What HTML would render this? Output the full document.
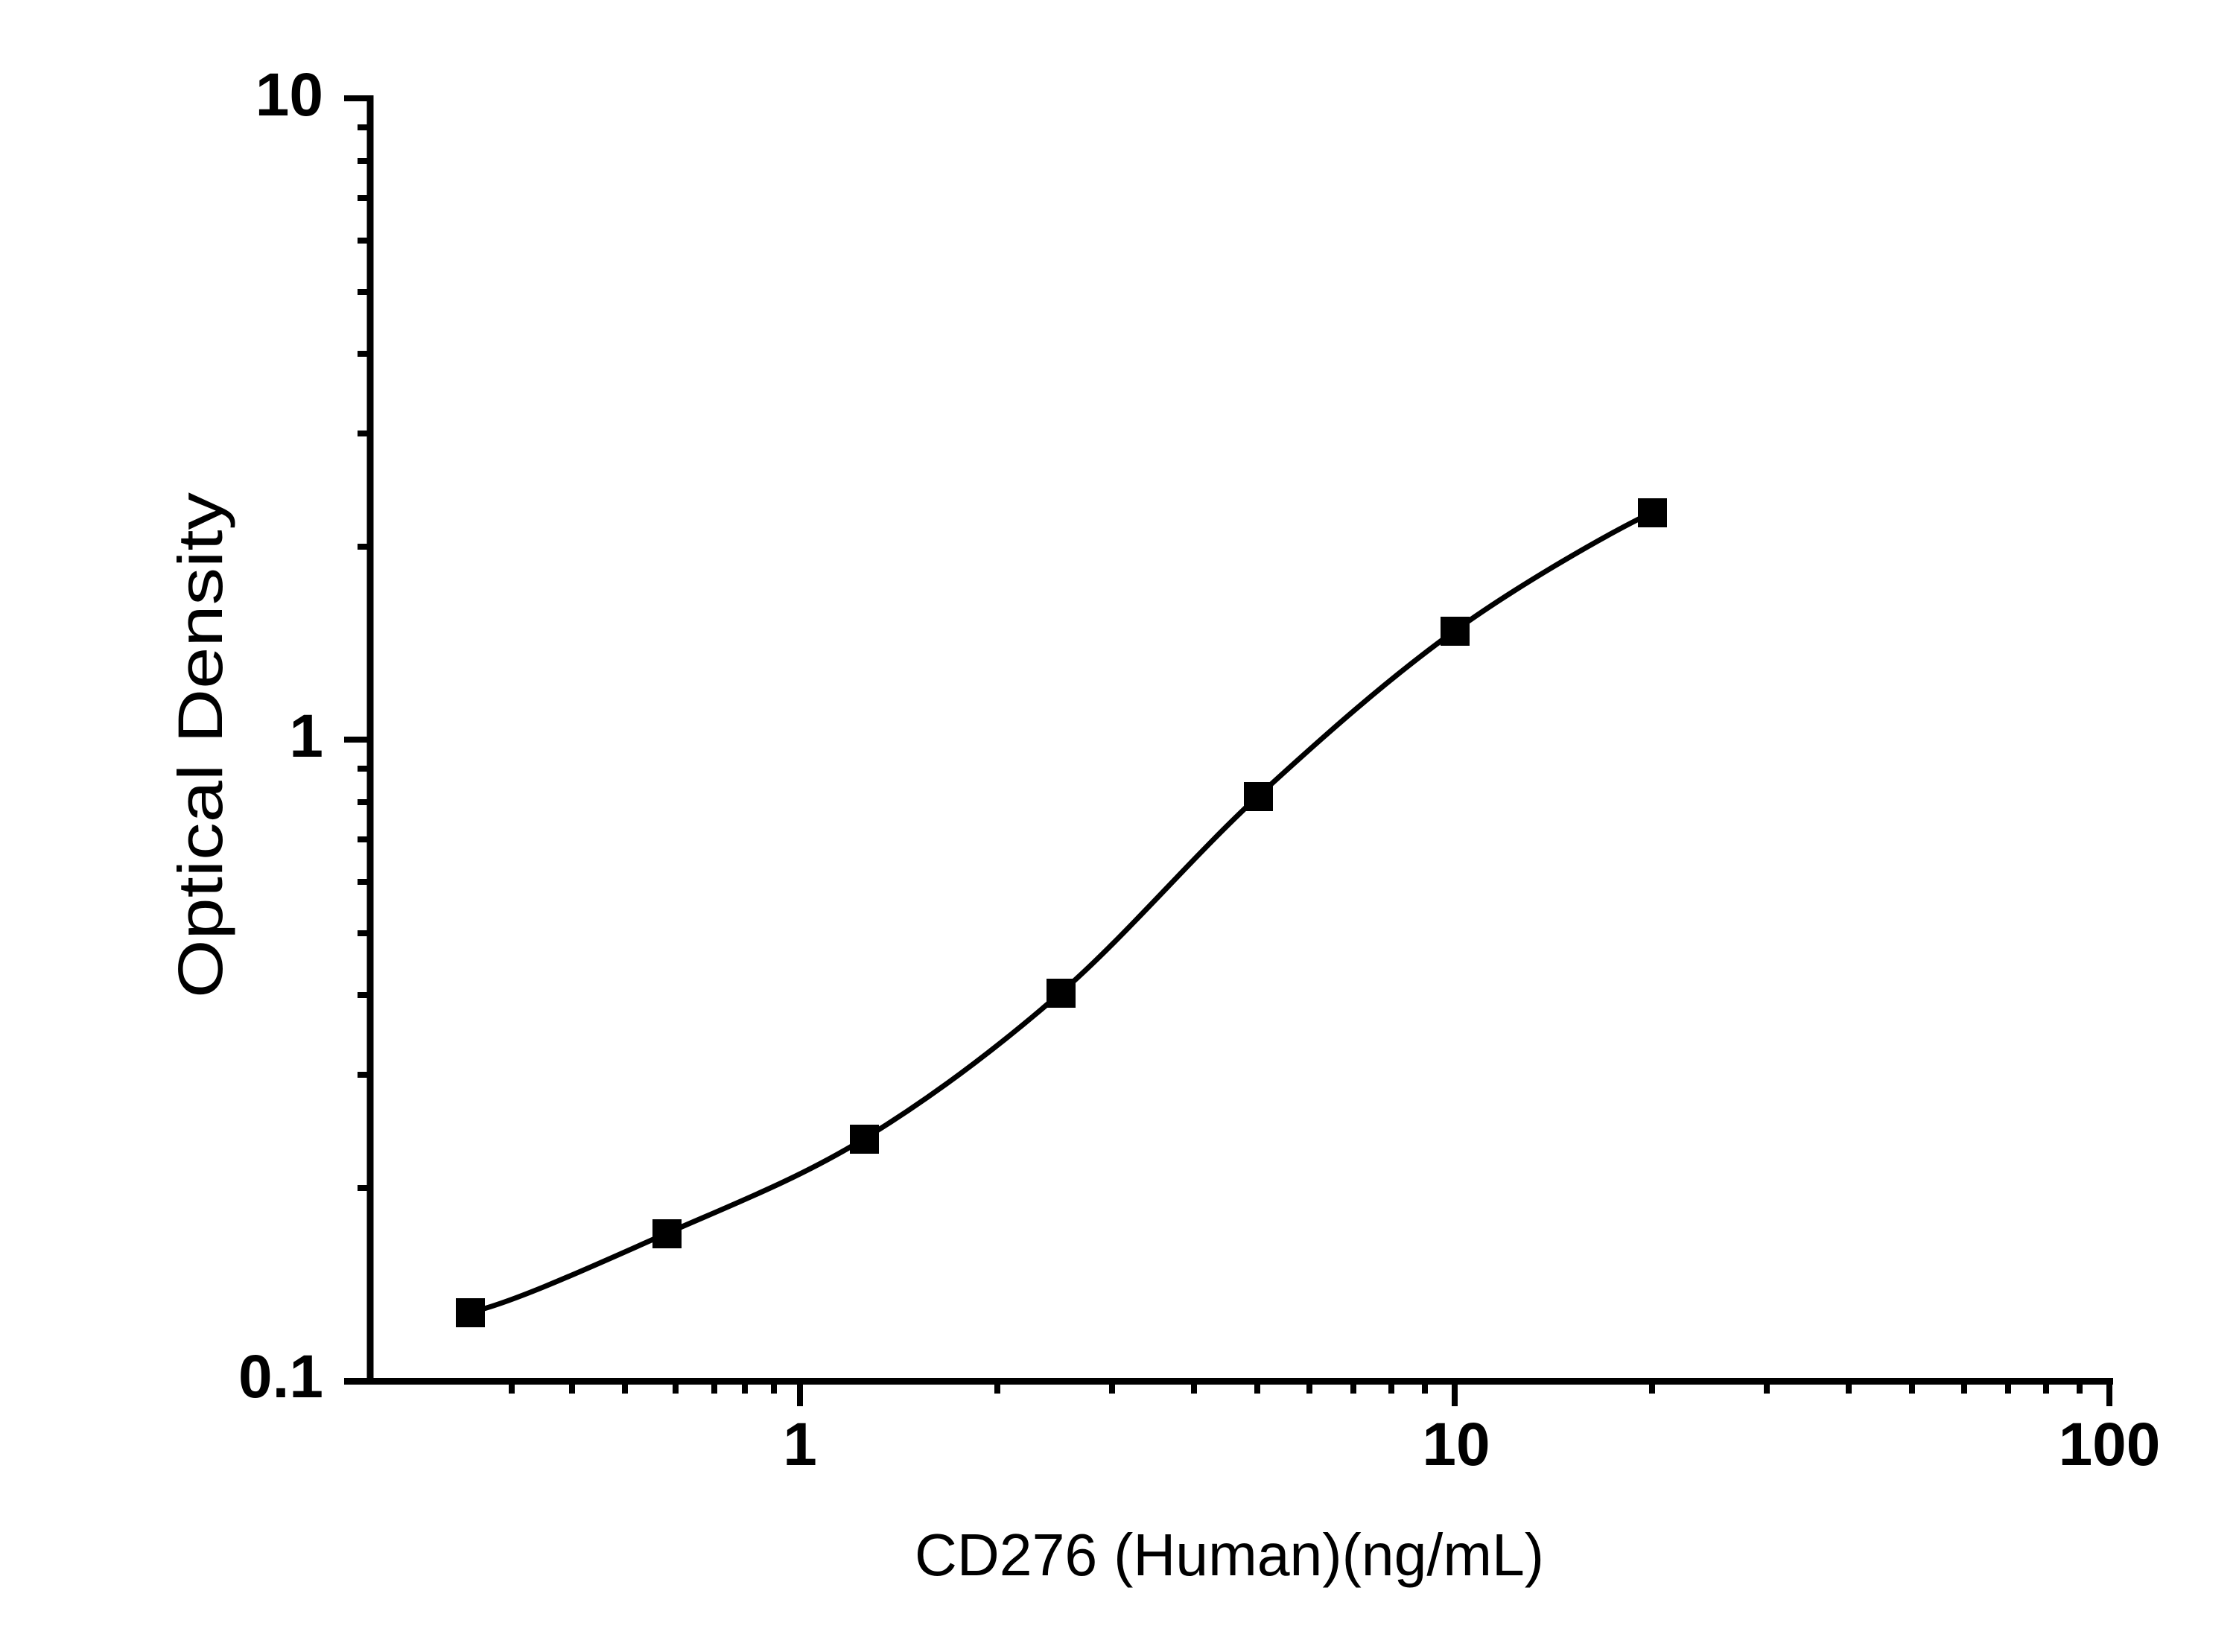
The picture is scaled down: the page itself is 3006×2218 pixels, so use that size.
<!DOCTYPE html>
<html><head><meta charset="utf-8"><style>html,body{margin:0;padding:0;background:#fff}</style></head>
<body>
<svg width="3006" height="2213" viewBox="0 0 3006 2213" xmlns="http://www.w3.org/2000/svg">
<rect width="3006" height="2213" fill="#fff"/>
<g stroke="#000" fill="none">
<line x1="497" y1="128" x2="497" y2="1859" stroke-width="9"/>
<line x1="462" y1="1854.5" x2="2837" y2="1854.5" stroke-width="9"/>
<g stroke-width="8">
<line x1="462" y1="132" x2="497" y2="132"/>
<line x1="462" y1="993" x2="497" y2="993"/>
<line x1="1074" y1="1854" x2="1074" y2="1888"/>
<line x1="1953" y1="1854" x2="1953" y2="1888"/>
<line x1="2832" y1="1854" x2="2832" y2="1888"/>
</g>
<g stroke-width="8">
<line x1="480" y1="1595" x2="497" y2="1595"/><line x1="480" y1="1443" x2="497" y2="1443"/><line x1="480" y1="1336" x2="497" y2="1336"/><line x1="480" y1="1253" x2="497" y2="1253"/><line x1="480" y1="1184" x2="497" y2="1184"/><line x1="480" y1="1127" x2="497" y2="1127"/><line x1="480" y1="1077" x2="497" y2="1077"/><line x1="480" y1="1032" x2="497" y2="1032"/>
<line x1="480" y1="734" x2="497" y2="734"/><line x1="480" y1="582" x2="497" y2="582"/><line x1="480" y1="475" x2="497" y2="475"/><line x1="480" y1="392" x2="497" y2="392"/><line x1="480" y1="323" x2="497" y2="323"/><line x1="480" y1="266" x2="497" y2="266"/><line x1="480" y1="216" x2="497" y2="216"/><line x1="480" y1="171" x2="497" y2="171"/>
<line x1="687" y1="1854" x2="687" y2="1871"/><line x1="768" y1="1854" x2="768" y2="1871"/><line x1="839" y1="1854" x2="839" y2="1871"/><line x1="907" y1="1854" x2="907" y2="1871"/><line x1="959" y1="1854" x2="959" y2="1871"/><line x1="1000" y1="1854" x2="1000" y2="1871"/><line x1="1039" y1="1854" x2="1039" y2="1871"/>
<line x1="1339" y1="1854" x2="1339" y2="1871"/><line x1="1493" y1="1854" x2="1493" y2="1871"/><line x1="1603" y1="1854" x2="1603" y2="1871"/><line x1="1688" y1="1854" x2="1688" y2="1871"/><line x1="1758" y1="1854" x2="1758" y2="1871"/><line x1="1817" y1="1854" x2="1817" y2="1871"/><line x1="1868" y1="1854" x2="1868" y2="1871"/><line x1="1913" y1="1854" x2="1913" y2="1871"/>
<line x1="2218" y1="1854" x2="2218" y2="1871"/><line x1="2372" y1="1854" x2="2372" y2="1871"/><line x1="2482" y1="1854" x2="2482" y2="1871"/><line x1="2567" y1="1854" x2="2567" y2="1871"/><line x1="2637" y1="1854" x2="2637" y2="1871"/><line x1="2696" y1="1854" x2="2696" y2="1871"/><line x1="2747" y1="1854" x2="2747" y2="1871"/><line x1="2792" y1="1854" x2="2792" y2="1871"/>
</g>
<path stroke-width="7" stroke-linejoin="round" d="M631,1762 C690,1749 806.8,1694.8 895,1656 C983.2,1617.2 1071.8,1582.8 1160,1529 C1248.2,1475.2 1335.8,1409.7 1424,1333 C1512.2,1256.3 1600.8,1150 1689,1069 C1777.2,988 1864.8,910.5 1953,847 C2041.2,783.5 2160,716 2218,688"/>
</g>
<g fill="#000">
<rect x="612" y="1743" width="39" height="39"/>
<rect x="876" y="1637" width="39" height="39"/>
<rect x="1141" y="1510" width="39" height="39"/>
<rect x="1405" y="1314" width="39" height="39"/>
<rect x="1670" y="1050" width="39" height="39"/>
<rect x="1934" y="828" width="39" height="39"/>
<rect x="2199" y="669" width="39" height="39"/>
</g>
<g font-family="Liberation Sans, Arial, sans-serif" font-weight="bold" font-size="82" fill="#000">
<text x="434" y="155" text-anchor="end">10</text>
<text x="434" y="1016" text-anchor="end">1</text>
<text x="434" y="1876" text-anchor="end">0.1</text>
<text x="1074" y="1967" text-anchor="middle">1</text>
<text x="1955" y="1967" text-anchor="middle">10</text>
<text x="2832" y="1967" text-anchor="middle">100</text>
</g>
<g font-family="Liberation Sans, Arial, sans-serif" font-size="80" fill="#000">
<text x="1228" y="2115" textLength="845" lengthAdjust="spacingAndGlyphs">CD276 (Human)(ng/mL)</text>
<text transform="translate(298,1340) rotate(-90)" x="0" y="0" textLength="679" lengthAdjust="spacingAndGlyphs" font-size="84">Optical Density</text>
</g>
</svg>
</body></html>
